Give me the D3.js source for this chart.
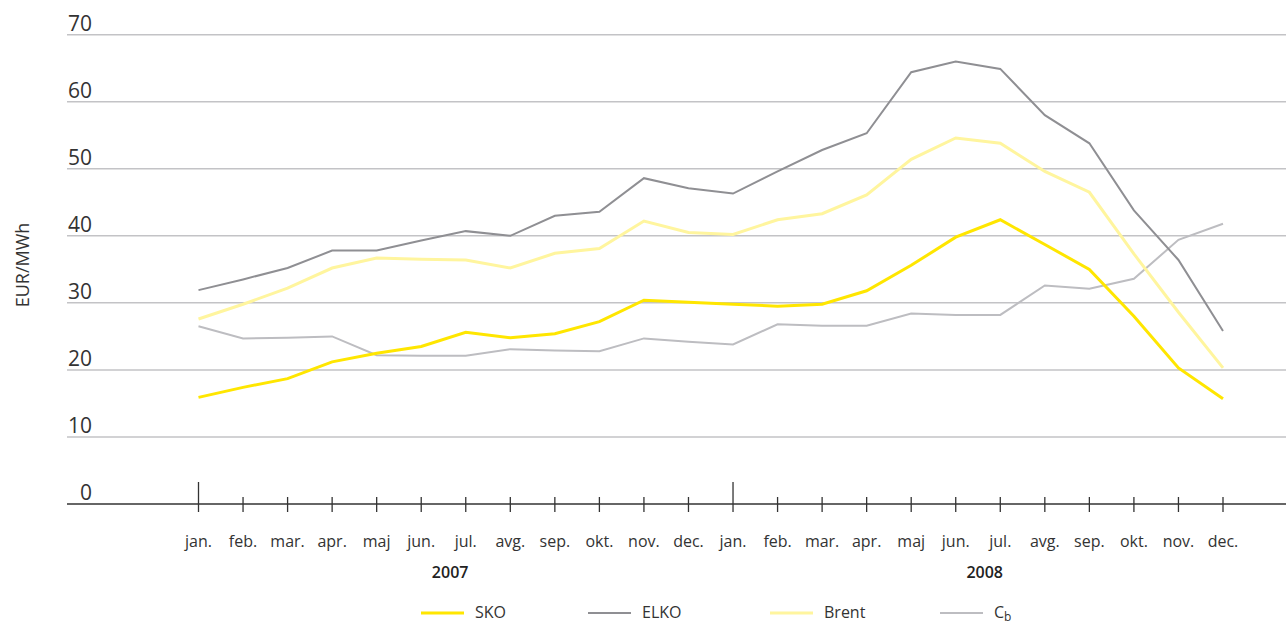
<!DOCTYPE html>
<html>
<head>
<meta charset="utf-8">
<script src="https://cdn.jsdelivr.net/npm/d3@7"></script>
<style>
  html, body { margin: 0; padding: 0; background: #fff; }
  svg { display: block; font-family: "Open Sans", "DejaVu Sans", sans-serif; }
</style>
</head>
<body>
<svg id="chart" width="1286" height="625"></svg>
<script>
const months = ["jan.","feb.","mar.","apr.","maj","jun.","jul.","avg.","sep.","okt.","nov.","dec."];
const years = ["2007","2008"];
const yTicks = [0,10,20,30,40,50,60,70];

const SKO   = [15.9,17.4,18.7,21.2,22.5,23.5,25.6,24.8,25.4,27.2,30.4,30.1, 29.8,29.5,29.8,31.8,35.6,39.8,42.4,38.7,35.0,28.0,20.3,15.7];
const ELKO  = [31.9,33.5,35.2,37.8,37.8,39.3,40.7,40.0,43.0,43.6,48.6,47.1, 46.3,49.6,52.8,55.3,64.4,66.0,64.9,58.0,53.8,43.8,36.4,25.8];
const Brent = [27.6,29.8,32.2,35.2,36.7,36.5,36.4,35.2,37.4,38.1,42.2,40.5, 40.2,42.4,43.3,46.1,51.4,54.6,53.8,49.6,46.5,37.3,28.6,20.3];
const Cb    = [26.5,24.7,24.8,25.0,22.2,22.1,22.1,23.1,22.9,22.8,24.7,24.2, 23.8,26.8,26.6,26.6,28.4,28.2,28.2,32.6,32.1,33.6,39.4,41.8];

const series = [
  {name: "SKO",   values: SKO,   color: "#FFE600", width: 3},
  {name: "ELKO",  values: ELKO,  color: "#8f8f93", width: 2},
  {name: "Brent", values: Brent, color: "#FFF59E", width: 3},
  {name: "C",     sub: "b", values: Cb, color: "#bdbdc1", width: 2}
];

const svg = d3.select("#chart");
const n = months.length * years.length;
const x = d3.scaleLinear().domain([0, n - 1]).range([198.5, 1223]);
const y = d3.scaleLinear().domain([0, 70]).range([504, 34.7]);
const left = 67, right = 1286;

// gridlines
svg.append("g").selectAll("line").data(yTicks.filter(d => d > 0)).join("line")
  .attr("x1", left).attr("x2", right)
  .attr("y1", d => y(d)).attr("y2", d => y(d))
  .attr("stroke", "#c3c3c6").attr("stroke-width", 1.5);

// y labels
svg.append("g").selectAll("text").data(yTicks).join("text")
  .attr("x", 92).attr("y", d => y(d) - 4)
  .attr("text-anchor", "end")
  .attr("font-size", 21).attr("fill", "#333")
  .text(d => d);

// y title
svg.append("text")
  .attr("transform", "translate(29,265) rotate(-90)")
  .attr("text-anchor", "middle")
  .attr("font-size", 18).attr("fill", "#333")
  .text("EUR/MWh");

// x axis line
svg.append("line").attr("x1", left).attr("x2", right)
  .attr("y1", y(0)).attr("y2", y(0))
  .attr("stroke", "#333").attr("stroke-width", 1.5);

// ticks
const idx = d3.range(n);
svg.append("g").selectAll("line").data(idx).join("line")
  .attr("x1", d => x(d)).attr("x2", d => x(d))
  .attr("y1", d => d % 12 === 0 ? y(0) - 22 : y(0) - 7)
  .attr("y2", y(0) + 8)
  .attr("stroke", "#333").attr("stroke-width", 1.3);

// month labels
svg.append("g").selectAll("text").data(idx).join("text")
  .attr("x", d => x(d)).attr("y", 547)
  .attr("text-anchor", "middle")
  .attr("font-size", 16).attr("fill", "#333")
  .text(d => months[d % 12]);

// year labels
svg.append("g").selectAll("text").data(years).join("text")
  .attr("x", (d, i) => x(i * 12 + 5.65)).attr("y", 578)
  .attr("text-anchor", "middle")
  .attr("font-size", 16).attr("font-weight", 600).attr("fill", "#222")
  .text(d => d);

// lines (draw order: Cb, Brent, ELKO, SKO)
const line = d3.line().x((d, i) => x(i)).y(d => y(d));
const order = [series[3], series[2], series[1], series[0]];
svg.append("g").selectAll("path").data(order).join("path")
  .attr("d", d => line(d.values))
  .attr("fill", "none")
  .attr("stroke", d => d.color)
  .attr("stroke-width", d => d.width)
  .attr("stroke-linejoin", "miter");

// legend
const legX = [421, 588, 770, 940];
const lg = svg.append("g").selectAll("g").data(series).join("g")
  .attr("transform", (d, i) => `translate(${legX[i]},613)`);
lg.append("line").attr("x1", 0).attr("x2", 43).attr("y1", 0).attr("y2", 0)
  .attr("stroke", d => d.color).attr("stroke-width", d => d.width);
const lt = lg.append("text").attr("x", 54).attr("y", 5)
  .attr("font-size", 16).attr("fill", "#333");
lt.append("tspan").text(d => d.name);
lt.filter(d => d.sub).append("tspan")
  .attr("dy", 3).attr("font-size", 12).text(d => d.sub);
</script>
</body>
</html>
